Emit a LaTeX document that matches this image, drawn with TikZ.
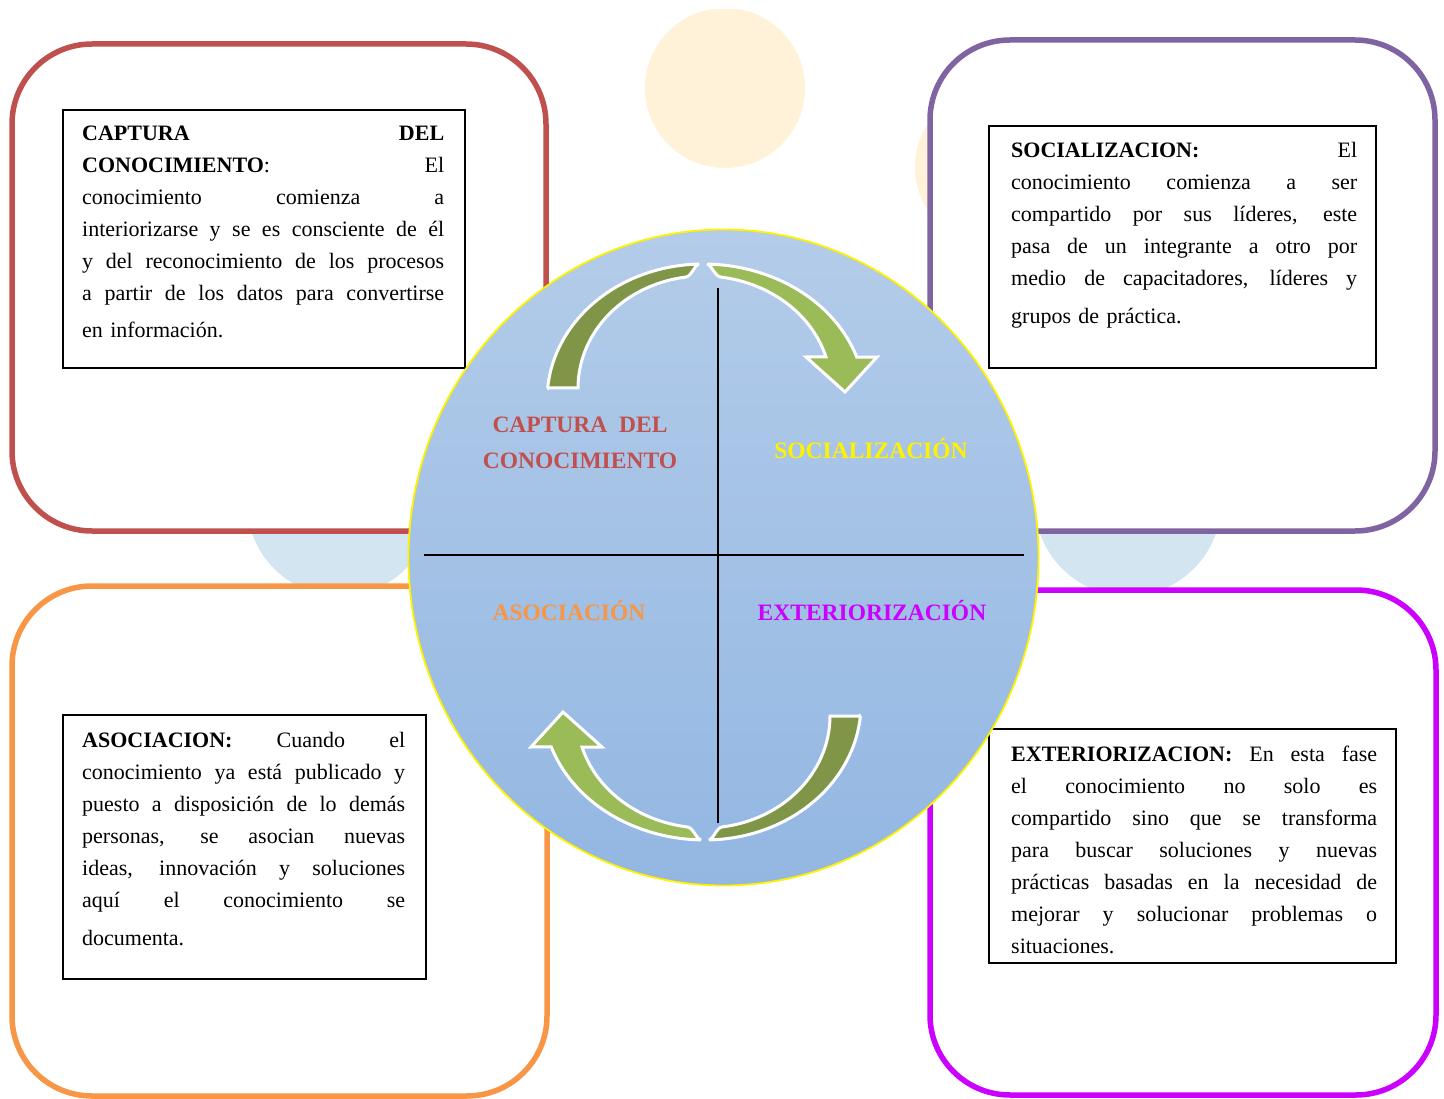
\documentclass[tikz,border=0pt]{standalone}
\usepackage{fontspec}
\setmainfont{Liberation Serif}
\definecolor{boxred}{HTML}{C0504D}
\definecolor{boxpurple}{HTML}{8064A2}
\definecolor{boxorange}{HTML}{F79646}
\definecolor{boxmag}{HTML}{CC00FF}
\definecolor{lblue}{HTML}{D3E5F1}
\definecolor{cream}{HTML}{FFF2D9}
\definecolor{circtop}{HTML}{B3CCE9}
\definecolor{circbot}{HTML}{93B7E2}
\definecolor{darkg}{HTML}{7F9548}
\definecolor{lightg}{HTML}{9BBB59}
\newlength\lw
\newcommand\jl[1]{\leavevmode\hbox to \lw{\spaceskip=0.25em plus 1fil\xspaceskip=0.25em plus 1fil #1}}
\tikzset{
  framebox/.style={line width=5.5pt, fill=white, rounded corners=80pt},
  txtframe/.style={draw=black, line width=1.6pt},
  bodytext/.style={font=\fontsize{22}{32}\selectfont, inner sep=0pt, anchor=base west},
  lab/.style={font=\fontsize{23.5}{36}\selectfont\bfseries, inner sep=0pt, anchor=base},
  arrowpiece/.style={draw=white, line width=3pt, line join=miter, miter limit=3},
  axis/.style={draw=black, line width=1.6pt}
}
\begin{document}
\begin{tikzpicture}[x=1pt,y=-1pt]
\useasboundingbox (0,0) rectangle (1444,1099);
% decorative background circles
\begin{scope}
  \clip (0,10) rectangle (1444,1099);
  \fill[cream] (725,88) circle[radius=80];
\end{scope}
\fill[cream] (995,167) circle[radius=80];
\fill[lblue] (340,503) circle[radius=93];
\fill[lblue] (1128,503) circle[radius=93];
% outer rounded boxes
\draw[framebox, draw=boxred] (12,44) rectangle (546,531);
\draw[framebox, draw=boxpurple] (930,40) rectangle (1435,531);
\draw[framebox, draw=boxorange] (12,586) rectangle (547,1096);
\draw[framebox, draw=boxmag] (930,590) rectangle (1436,1095);
% text frames
\draw[txtframe] (63,110) rectangle (465,368);
\draw[txtframe] (989,126) rectangle (1376,368);
\draw[txtframe] (63,715) rectangle (426,979);
\draw[txtframe] (989,729) rectangle (1396,963);
% central circle
\shade[top color=circtop, bottom color=circbot] (723.5,557.5) ellipse [x radius=315, y radius=328];
\draw[yellow, line width=1.8pt] (723.5,557.5) ellipse [x radius=315, y radius=328];
% axes
\coordinate (vtop) at (718,288);
\coordinate (vbot) at (718,823);
\coordinate (hl) at (424,555);
\coordinate (hr) at (1024,555);
\draw[axis] (vtop) -- (vbot);
\draw[axis] (hl) -- (hr);
% cycle arrows (top pair, then rotated copy at bottom)
\foreach \rot in {0,180}{
\begin{scope}[rotate around={\rot:(704,552)}]
  \fill[darkg, arrowpiece] (547.6,388)
    -- plot[domain=185.06:268.5, samples=40] ({703+156*cos(\x)},{400+136*sin(\x)})
    .. controls (694,265.5) and (691.6,276.4) .. (685.6,277.1)
    -- plot[domain=262:180, samples=40] ({703+125*cos(\x)},{388+112*sin(\x)})
    -- cycle;
  \fill[lightg, arrowpiece] (707.2,264.05)
    -- plot[domain=271.5:341.6, samples=40] ({703+162*cos(\x)},{400+136*sin(\x)})
    -- (877,357) -- (845,392) -- (806,357)
    -- plot[domain=343.9:278, samples=40] ({703+128*cos(\x)},{388+112*sin(\x)})
    .. controls (714.8,276.4) and (712,265.5) .. (707.2,264.05)
    -- cycle;
\end{scope}
}
% circle labels
\node[lab, text=boxred] (lcap1) at (580,432) {CAPTURA\ \ DEL};
\node[lab, text=boxred] (lcap2) at (580,468) {CONOCIMIENTO};
\node[lab, text=yellow] (lsoc) at (871,458) {SOCIALIZACIÓN};
\node[lab, text=boxorange] (laso) at (569,620) {ASOCIACIÓN};
\node[lab, text=boxmag] (lext) at (872,620) {EXTERIORIZACIÓN};
% body texts
\node[bodytext, text width=362pt] (t1) at (82,141) {\setlength\lw{362pt}%
\jl{\textbf{CAPTURA} \textbf{DEL}}\\
\jl{\textbf{CONOCIMIENTO}: El}\\
\jl{conocimiento comienza a}\\
\jl{interiorizarse y se es consciente de él}\\
\jl{y del reconocimiento de los procesos}\\
\jl{a partir de los datos para convertirse}\\[5pt]
en información.};
\node[bodytext, text width=346pt] (t2) at (1011,158) {\setlength\lw{346pt}%
\jl{\textbf{SOCIALIZACION:} El}\\
\jl{conocimiento comienza a ser}\\
\jl{compartido por sus líderes, este}\\
\jl{pasa de un integrante a otro por}\\
\jl{medio de capacitadores, líderes y}\\[6pt]
grupos de práctica.};
\node[bodytext, text width=323pt] (t3) at (82,747) {\setlength\lw{323pt}%
\jl{\textbf{ASOCIACION:} Cuando el}\\
\jl{conocimiento ya está publicado y}\\
\jl{puesto a disposición de lo demás}\\
\jl{personas, se asocian nuevas}\\
\jl{ideas, innovación y soluciones}\\
\jl{aquí el conocimiento se}\\[6pt]
documenta.};
\node[bodytext, text width=366pt] (t4) at (1011,761) {\setlength\lw{366pt}%
\jl{\textbf{EXTERIORIZACION:} En esta fase}\\
\jl{el conocimiento no solo es}\\
\jl{compartido sino que se transforma}\\
\jl{para buscar soluciones y nuevas}\\
\jl{prácticas basadas en la necesidad de}\\
\jl{mejorar y solucionar problemas o}\\
situaciones.};
\end{tikzpicture}
\end{document}
